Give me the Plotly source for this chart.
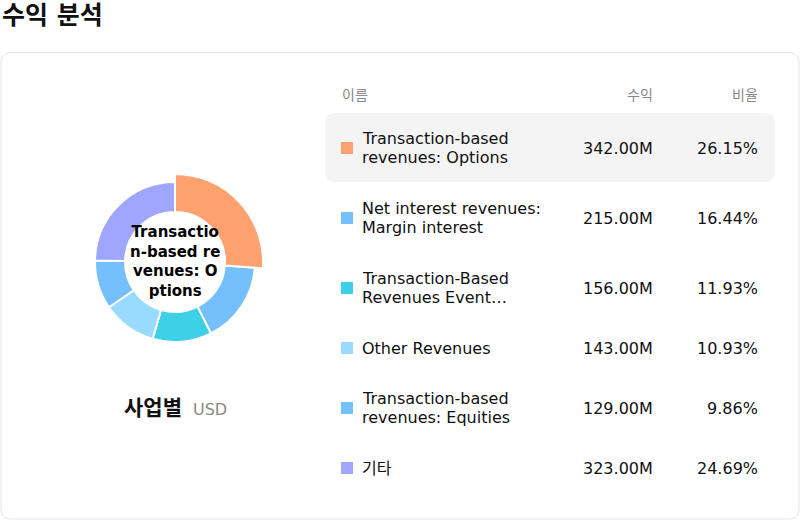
import plotly.graph_objects as go

# ---- data ----
names = [
    "Transaction-based revenues: Options",
    "Net interest revenues: Margin interest",
    "Transaction-Based Revenues Event Contracts",
    "Other Revenues",
    "Transaction-based revenues: Equities",
    "기타",
]
display_names = [
    ["Transaction-based", "revenues: Options"],
    ["Net interest revenues:", "Margin interest"],
    ["Transaction-Based", "Revenues Event…"],
    ["Other Revenues"],
    ["Transaction-based", "revenues: Equities"],
    ["기타"],
]
values = [342, 215, 156, 143, 129, 323]  # millions USD
colors = ["#FFA26F", "#74C0FC", "#3DD0E6", "#99DBFF", "#74C0FC", "#A0A5FD"]
center_lines = ["Transactio", "n-based re", "venues: O", "ptions"]
highlight_index = 0

total = sum(values)
pcts = [v / total * 100 for v in values]

FONT = "DejaVu Sans, Noto Sans CJK KR, sans-serif"
W, H = 800, 520

fig = go.Figure()

# donut geometry (pixels)
cx, cy, r_out, r_in, r_big = 175, 262, 80, 50, 88


def dom(r):
    return dict(x=[(cx - r) / W, (cx + r) / W], y=[1 - (cy + r) / H, 1 - (cy - r) / H])


fig.add_trace(go.Pie(
    values=values, labels=names, sort=False, direction="clockwise", rotation=0,
    hole=r_in / r_out, domain=dom(r_out), textinfo="none", hoverinfo="label+value+percent",
    marker=dict(colors=colors, line=dict(color="white", width=2)), showlegend=False,
))
# enlarged highlighted slice
big_colors = [c if i == highlight_index else "rgba(0,0,0,0)" for i, c in enumerate(colors)]
big_lines = ["white" if i == highlight_index else "rgba(0,0,0,0)" for i in range(len(values))]
fig.add_trace(go.Pie(
    values=values, labels=names, sort=False, direction="clockwise", rotation=0,
    hole=r_in / r_big, domain=dom(r_big), textinfo="none", hoverinfo="skip",
    marker=dict(colors=big_colors, line=dict(color=big_lines, width=2)), showlegend=False,
))


def rrect(x0, y0, x1, y1, r):
    return (f"M{x0+r},{y0} L{x1-r},{y0} Q{x1},{y0} {x1},{y0+r} L{x1},{y1-r} "
            f"Q{x1},{y1} {x1-r},{y1} L{x0+r},{y1} Q{x0},{y1} {x0},{y1-r} "
            f"L{x0},{y0+r} Q{x0},{y0} {x0+r},{y0} Z")


shapes = [
    dict(type="path", xref="x", yref="y", path=rrect(1, 52.5, 799, 519, 10),
         line=dict(color="#E3E3EC", width=1), fillcolor="white", layer="below"),
]
annotations = []


def txt(x, y, s, size, color="#111", anchor="left", bold=False):
    annotations.append(dict(x=x, y=y, xref="x", yref="y", text=f"<b>{s}</b>" if bold else s,
                            showarrow=False, xanchor=anchor, yanchor="middle",
                            font=dict(size=size, color=color, family=FONT)))


# title
txt(0, 15, "수익 분석", 25, bold=True)
# center label
txt(cx, cy - 1, "<br>".join(center_lines), 15, color="#000", anchor="center", bold=True)
# subtitle
txt(184, 408, "사업별", 21, anchor="right", bold=True)
txt(191, 409, "USD", 16, color="#888")

# table header
txt(340, 95, "이름", 14, color="#888")
txt(655, 95, "수익", 14, color="#888", anchor="right")
txt(760, 95, "비율", 14, color="#888", anchor="right")

ytop = 113
for i, (dn, v, p, c) in enumerate(zip(display_names, values, pcts, colors)):
    h = 70 if len(dn) > 1 else 50
    yc = ytop + h / 2
    if i == highlight_index:
        shapes.append(dict(type="path", xref="x", yref="y", path=rrect(325, ytop, 775, ytop + h - 1, 10),
                           line=dict(width=0), fillcolor="#F4F4F4", layer="below"))
    shapes.append(dict(type="rect", xref="x", yref="y", x0=341, x1=353, y0=yc - 6, y1=yc + 6,
                       fillcolor=c, line=dict(width=0)))
    for k, line in enumerate(dn):
        txt(360, yc + (k - (len(dn) - 1) / 2) * 18.6, line, 16)
    txt(655, yc, f"{v:.2f}M", 16, anchor="right")
    txt(760, yc, f"{p:.2f}%", 16, anchor="right")
    ytop += h

fig.update_layout(
    width=W, height=H, margin=dict(l=0, r=0, t=0, b=0),
    paper_bgcolor="white", plot_bgcolor="rgba(0,0,0,0)",
    xaxis=dict(range=[0, W], visible=False, fixedrange=True, domain=[0, 1]),
    yaxis=dict(range=[H, 0], visible=False, fixedrange=True, domain=[0, 1]),
    shapes=shapes, annotations=annotations, font=dict(family=FONT),
)

fig.write_html("out.html", config={"displayModeBar": False},
               post_script="document.body.style.margin='0';document.body.style.padding='0';")
